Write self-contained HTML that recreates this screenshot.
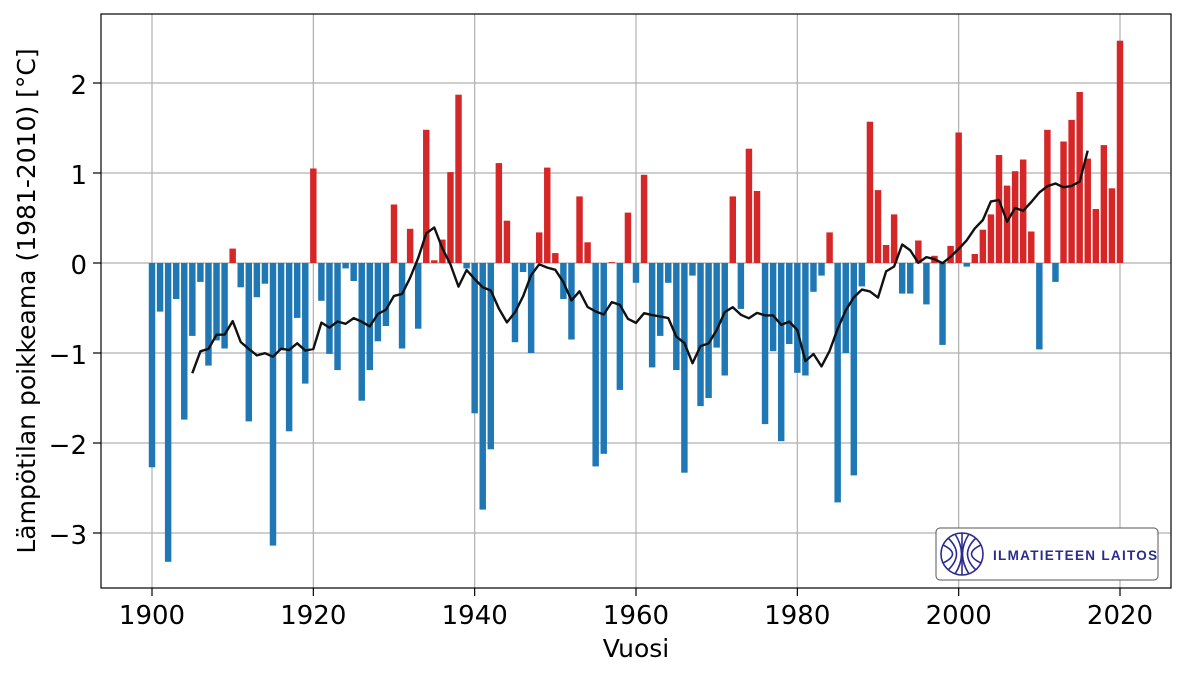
<!DOCTYPE html>
<html><head><meta charset="utf-8"><style>
html,body{margin:0;padding:0;background:#fff;}
svg{display:block;font-family:"DejaVu Sans","Liberation Sans",sans-serif;}
</style></head><body>
<svg id="s" width="1185" height="675" viewBox="0 0 1185 675" xmlns="http://www.w3.org/2000/svg">
<rect width="1185" height="675" fill="#fff"/>
<g id="grid" stroke="#b0b0b0" stroke-width="1.2"></g>
<g id="bars"></g>
<polyline id="ma" fill="none" stroke="#111" stroke-width="2.4" stroke-linejoin="round"/>
<rect x="101" y="14" width="1070" height="574" fill="none" stroke="#000" stroke-width="1.2"/>
<g id="ticks" stroke="#000" stroke-width="1.2"></g>
<g font-size="26" fill="#000" text-anchor="end">
<text x="87" y="94">2</text><text x="87" y="184">1</text><text x="87" y="274">0</text>
<text x="87" y="364">−1</text><text x="87" y="454">−2</text><text x="87" y="544">−3</text>
</g>
<g font-size="26" fill="#000" text-anchor="middle">
<text x="152" y="624">1900</text><text x="313.3" y="624">1920</text><text x="474.7" y="624">1940</text>
<text x="636" y="624">1960</text><text x="797.3" y="624">1980</text><text x="958.7" y="624">2000</text><text x="1120" y="624">2020</text>
</g>
<g font-size="25" fill="#000" text-anchor="middle">
<text x="636" y="657">Vuosi</text>
<text transform="translate(35,301) rotate(-90)">Lämpötilan poikkeama (1981-2010) [°C]</text>
</g>
<rect x="936" y="528" width="222" height="52" rx="4" fill="#fff" stroke="#555" stroke-width="1"/>
<g fill="none" stroke="#2b2b8f" stroke-width="1.6">
<circle cx="962" cy="554" r="21"/>
<line x1="962" y1="533" x2="962" y2="575"/>
<path d="M955 534 Q968 554 955 574 M969 534 Q956 554 969 574 M948 538 Q965 554 948 570 M976 538 Q959 554 976 570 M943 545 Q962 554 943 563 M981 545 Q962 554 981 563"/>
</g>
<text x="993" y="560" font-size="13.5" font-weight="bold" fill="#2b2b8f" letter-spacing="1.3" font-family="Liberation Sans, sans-serif">ILMATIETEEN LAITOS</text>
</svg>
<script>
var v=[-2.27,-0.54,-3.32,-0.40,-1.74,-0.81,-0.21,-1.14,-0.86,-0.95,
0.16,-0.27,-1.76,-0.38,-0.23,-3.14,-0.97,-1.87,-0.61,-1.34,
1.05,-0.42,-1.01,-1.19,-0.06,-0.20,-1.53,-1.19,-0.87,-0.70,
0.65,-0.95,0.38,-0.73,1.48,0.03,0.26,1.01,1.87,-0.06,
-1.67,-2.74,-2.07,1.11,0.47,-0.88,-0.10,-1.00,0.34,1.06,
0.11,-0.40,-0.85,0.74,0.23,-2.26,-2.12,0.01,-1.41,0.56,
-0.22,0.98,-1.16,-0.81,-0.22,-1.19,-2.33,-0.14,-1.59,-1.50,
-0.94,-1.25,0.74,-0.51,1.27,0.80,-1.79,-0.98,-1.98,-0.90,
-1.22,-1.25,-0.32,-0.14,0.34,-2.66,-1.00,-2.36,-0.26,1.57,
0.81,0.20,0.54,-0.34,-0.34,0.25,-0.46,0.08,-0.91,0.19,
1.45,-0.04,0.10,0.37,0.54,1.20,0.86,1.02,1.15,0.35,
-0.96,1.48,-0.21,1.35,1.59,1.90,1.16,0.60,1.31,0.83,2.47];
var NS="http://www.w3.org/2000/svg";
function X(y){return 152+(y-1900)*8.0667;}
function Y(t){return 263-t*90;}
function el(p,t,a){var e=document.createElementNS(NS,t);for(var k in a)e.setAttribute(k,a[k]);document.getElementById(p).appendChild(e);}
for(var y=1900;y<=2020;y+=20){el('grid','line',{x1:X(y),x2:X(y),y1:14,y2:588});el('ticks','line',{x1:X(y),x2:X(y),y1:588,y2:596});}
for(var t=-3;t<=2;t++){el('grid','line',{x1:101,x2:1171,y1:Y(t),y2:Y(t)});el('ticks','line',{x1:93,x2:101,y1:Y(t),y2:Y(t)});}
for(var i=0;i<v.length;i++){var x=X(1900+i)-3.23,val=v[i];
el('bars','rect',{x:x,width:6.45,y:Math.min(Y(val),263),height:Math.abs(val*90),fill:val>=0?'#d62728':'#1f77b4'});}
var pts=[];
for(var y=1905;y<=2016;y++){var s=0;for(var k=y-5;k<=y+4;k++)s+=v[k-1900];pts.push(X(y).toFixed(1)+','+Y(s/10).toFixed(1));}
document.getElementById('ma').setAttribute('points',pts.join(' '));
</script>
</body></html>
